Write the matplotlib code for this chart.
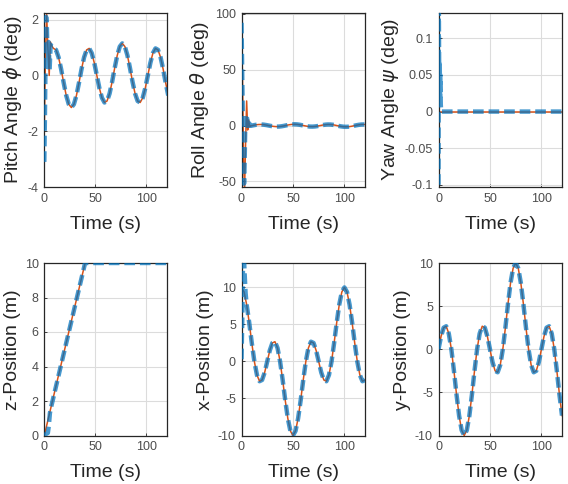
import numpy as np
import matplotlib
matplotlib.use("Agg")
import matplotlib.pyplot as plt
from matplotlib.ticker import FuncFormatter

plt.rcParams['font.family'] = ['Liberation Sans', 'DejaVu Sans']
plt.rcParams['axes.unicode_minus'] = False

# ---------------- data ----------------
# position grid (s)
t_pos = np.arange(0, 120.01, 2.5)
x_ref = [10, 9.39, 7.69, 5.24, 2.50, 0, -1.82, -2.67, -2.50, -1.49, 0, 1.49, 2.50, 2.67, 1.82, 0,
         -2.50, -5.24, -7.69, -9.39, -10, -9.39, -7.69, -5.24, -2.50, 0, 1.82, 2.67, 2.50, 1.49, 0,
         -1.49, -2.50, -2.67, -1.82, 0, 2.50, 5.24, 7.69, 9.39, 10, 9.39, 7.69, 5.24, 2.50, 0,
         -1.82, -2.67, -2.50]
y_ref = [0, 1.49, 2.50, 2.67, 1.82, 0, -2.50, -5.24, -7.69, -9.39, -10, -9.39, -7.69, -5.24, -2.50, 0,
         1.82, 2.67, 2.50, 1.49, 0, -1.49, -2.50, -2.67, -1.82, 0, 2.50, 5.24, 7.69, 9.39, 10,
         9.39, 7.69, 5.24, 2.50, 0, -1.82, -2.67, -2.50, -1.49, 0, 1.49, 2.50, 2.67, 1.82, 0,
         -2.50, -5.24, -7.69]
# early transient of measured x-position
x_act_early_t = [0, 0.8, 1.5, 2.2, 3.0, 4.0]
x_act_early = [0.3, 6.0, 13.5, 14.5, 12.0, 9.2]

z_ref_t = [0, 40, 120]
z_ref = [0, 10, 10]
z_act_t = [0, 2.0, 3.5, 4.5, 5.5, 6.5, 40, 120]
z_act = [0, 0.1, 0.15, 0.6, 1.3, 1.6, 10, 10]

# attitude grid (s)
t_att = np.arange(9, 121.6, 2.5)
pitch_ref_main = [0.970, 0.917, 0.650, 0.227, -0.264, -0.718, -1.036, -1.150, -1.036, -0.718, -0.264,
                  0.227, 0.650, 0.917, 0.970, 0.802, 0.452, 0, -0.452, -0.802, -0.970, -0.917, -0.650,
                  -0.227, 0.264, 0.718, 1.036, 1.150, 1.036, 0.718, 0.264, -0.227, -0.650, -0.917,
                  -0.970, -0.802, -0.452, 0, 0.452, 0.802, 0.970, 0.917, 0.650, 0.227, -0.264, -0.718]
pitch_ref_early_t = [0, 1.0, 2.3, 3.5, 4.8, 6.0, 7.5]
pitch_ref_early = [-2.0, 0.5, 2.2, 1.0, 0.0, 1.2, 1.05]
pitch_act_early_t = [0, 0.6, 1.2, 1.8, 2.5, 3.3, 4.2, 5.2, 6.2, 7.5]
pitch_act_early = [-3.1, -1.5, 0.5, 2.1, 1.8, 0.3, 1.2, 0.2, 1.1, 1.05]

roll_ref_main = [-0.264, 0.227, 0.650, 0.917, 0.970, 0.802, 0.452, 0, -0.452, -0.802, -0.970, -0.917,
                 -0.650, -0.227, 0.264, 0.718, 1.036, 1.150, 1.036, 0.718, 0.264, -0.227, -0.650,
                 -0.917, -0.970, -0.802, -0.452, 0, 0.452, 0.802, 0.970, 0.917, 0.650, 0.227, -0.264,
                 -0.718, -1.036, -1.150, -1.036, -0.718, -0.264, 0.227, 0.650, 0.917, 0.970, 0.802]
roll_ref_early_t = [0, 1.0, 2.0, 3.0, 4.0, 5.0, 6.0, 7.0, 8.0]
roll_ref_early = [90, 40, -30, -58, -15, 22, -4, 5, -1]
roll_act_early_t = [0, 0.5, 1.0, 1.5, 2.0, 2.5, 3.0, 3.7, 4.5, 5.5, 6.5, 7.5]
roll_act_early = [92, 60, 25, 0, -30, -52, -35, 2, 10, 6, -3, 2]

yaw_ref_t = [0, 120]
yaw_ref = [0, 0]
yaw_act_t = [0, 0.3, 0.6, 0.9, 1.2, 1.5, 1.8, 2.2, 2.6, 120]
yaw_act = [-0.10, 0.15, 0.07, 0.03, 0.065, 0.02, 0.05, 0.01, 0.0, 0.0]

# ---------------- build series ----------------
pitch_ref_t = np.concatenate([pitch_ref_early_t, t_att])
pitch_ref = np.concatenate([pitch_ref_early, pitch_ref_main])
pitch_act_t = np.concatenate([pitch_act_early_t, t_att])
pitch_act = np.concatenate([pitch_act_early, pitch_ref_main])
roll_ref_t = np.concatenate([roll_ref_early_t, t_att])
roll_ref = np.concatenate([roll_ref_early, roll_ref_main])
roll_act_t = np.concatenate([roll_act_early_t, t_att])
roll_act = np.concatenate([roll_act_early, roll_ref_main])
x_act_t = np.concatenate([x_act_early_t, t_pos[2:]])
x_act = np.concatenate([x_act_early, x_ref[2:]])

ORANGE = '#D95319'
BLUE = '#0072BD'

W, H = 568, 484
fig = plt.figure(figsize=(W / 100, H / 100), dpi=100)

col_left = [44.3, 241.5, 438.5]
col_w = [122.4, 123.5, 123.5]
row_top = [12.7, 263.0]
row_h = [174.3, 172.5]

def make_ax(r, c):
    l = col_left[c] / W
    b = 1 - (row_top[r] + row_h[r]) / H
    return fig.add_axes([l, b, col_w[c] / W, row_h[r] / H])

def fmt(v, p):
    return '%g' % v

panels = [
    (0, 0, pitch_ref_t, pitch_ref, pitch_act_t, pitch_act, (-4, 2.25), [-4, -2, 0, 2], 'Pitch Angle $\\phi$ (deg)'),
    (0, 1, roll_ref_t, roll_ref, roll_act_t, roll_act, (-55, 101), [-50, 0, 50, 100], 'Roll Angle $\\theta$ (deg)'),
    (0, 2, yaw_ref_t, yaw_ref, yaw_act_t, yaw_act, (-0.103, 0.135), [-0.1, -0.05, 0, 0.05, 0.1], 'Yaw Angle $\\psi$ (deg)'),
    (1, 0, z_ref_t, z_ref, z_act_t, z_act, (0, 10), [0, 2, 4, 6, 8, 10], 'z-Position (m)'),
    (1, 1, t_pos, x_ref, x_act_t, x_act, (-10, 13.3), [-10, -5, 0, 5, 10], 'x-Position (m)'),
    (1, 2, t_pos, y_ref, t_pos, y_ref, (-10, 10), [-10, -5, 0, 5, 10], 'y-Position (m)'),
]

for r, c, tr, yr, ta, ya, ylim, yt, ylab in panels:
    ax = make_ax(r, c)
    ax.plot(tr, yr, color=ORANGE, lw=1.1, zorder=2)
    ln, = ax.plot(ta, ya, color=BLUE, lw=3.2, alpha=0.72, zorder=3, solid_capstyle='butt')
    ln.set_dashes((2.4, 1.1))
    ln.set_dash_capstyle('butt')
    ax.set_xlim(0, 120)
    ax.set_ylim(*ylim)
    ax.set_xticks([0, 50, 100])
    ax.set_yticks(yt)
    ax.yaxis.set_major_formatter(FuncFormatter(fmt))
    ax.grid(True, color='#dcdcdc', lw=0.8)
    ax.set_axisbelow(True)
    for s in ax.spines.values():
        s.set_color('#262626')
        s.set_linewidth(0.9)
    ax.tick_params(direction='in', length=2.5, width=0.6, labelsize=9, colors='#262626',
                   labelcolor='#4d4d4d', pad=4)
    ax.set_xlabel('Time (s)', fontsize=14, color='#262626', labelpad=8)
    ax.set_ylabel(ylab, fontsize=14, color='#262626', labelpad=3)

fig.savefig('out.png', dpi=100)
